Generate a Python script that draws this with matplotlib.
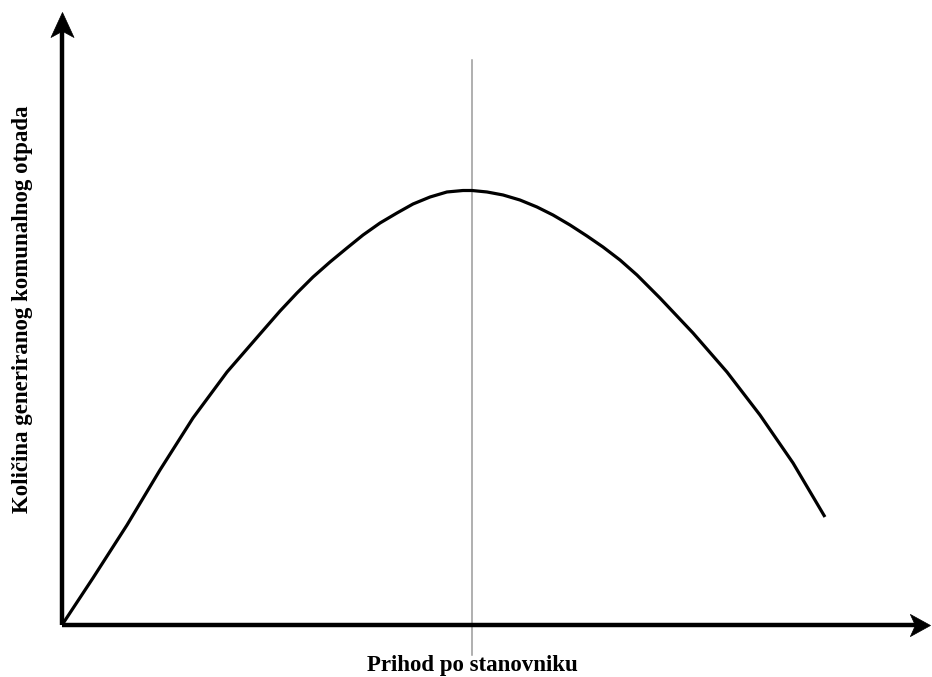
import matplotlib
matplotlib.use("Agg")
import matplotlib.pyplot as plt
from matplotlib.path import Path

# Data (income index 0-100, waste index 0-100)
income = [0.0, 3.57, 7.49, 11.29, 15.09, 19.01, 22.81, 25.12, 27.07, 28.92,
          30.88, 32.83, 34.68, 36.64, 38.59, 40.44, 42.40, 44.35, 46.20, 47.24,
          48.96, 50.81, 52.76, 54.72, 56.57, 58.53, 60.48, 62.33, 64.29, 66.24,
          68.89, 72.70, 76.61, 80.41, 84.22, 87.90]
waste = [0.0, 7.67, 16.31, 25.29, 33.77, 41.27, 47.47, 51.22, 54.16, 56.77,
         59.22, 61.50, 63.62, 65.58, 67.21, 68.68, 69.82, 70.64, 70.88, 70.88,
         70.64, 70.15, 69.33, 68.19, 66.88, 65.25, 63.46, 61.66, 59.54, 57.10,
         53.34, 47.63, 41.27, 34.26, 26.43, 17.62]
peak_income = 47.24
xlabel = "Prihod po stanovniku"
ylabel = "Količina generiranog komunalnog otpada"

W, H = 932, 677
fig = plt.figure(figsize=(W / 100, H / 100), dpi=100)
ax = fig.add_axes([62 / W, 52 / H, 868 / W, 613 / H])
ax.set_xlim(0, 100)
ax.set_ylim(0, 100)
ax.axis("off")

# vertical line at the turning point
ax.plot([peak_income, peak_income], [-4.9, 92.2], color="#9a9a9a", lw=1.1,
        clip_on=False, zorder=1)

# curve
ax.plot(income, waste, color="black", lw=2.3, solid_capstyle="butt",
        solid_joinstyle="round", zorder=3)

# axes with arrows
ax.plot([0, 98.5], [0, 0], color="black", lw=3.2, clip_on=False, zorder=4,
        solid_capstyle="butt")
ax.plot([0, 0], [0, 97.5], color="black", lw=3.2, clip_on=False, zorder=4,
        solid_capstyle="butt")

# concave arrow heads (tip at the marker position)
head_right = Path([(0, 0), (-1.0, 0.55), (-0.75, 0), (-1.0, -0.55), (0, 0)],
                  [Path.MOVETO, Path.LINETO, Path.LINETO, Path.LINETO,
                   Path.CLOSEPOLY])
head_up = Path([(0, 0), (0.46, -1.0), (0, -0.75), (-0.46, -1.0), (0, 0)],
               [Path.MOVETO, Path.LINETO, Path.LINETO, Path.LINETO,
                Path.CLOSEPOLY])

ax.plot([100], [0], marker=head_right, markersize=29, color="black",
        mec="black", mew=0.5, clip_on=False, zorder=5, linestyle="none")
ax.plot([0], [100], marker=head_up, markersize=36, color="black",
        mec="black", mew=0.5, clip_on=False, zorder=5, linestyle="none")

font = dict(family=["Liberation Serif", "DejaVu Serif"], weight="bold")
fig.text(472.5 / W, 1 - 671 / H, xlabel, ha="center", va="baseline",
         fontsize=16.5, **font)
fig.text(23 / W, 1 - 309 / H, ylabel, ha="center", va="center",
         rotation=90, fontsize=16.5, **font)

fig.savefig("out.png", dpi=100)
